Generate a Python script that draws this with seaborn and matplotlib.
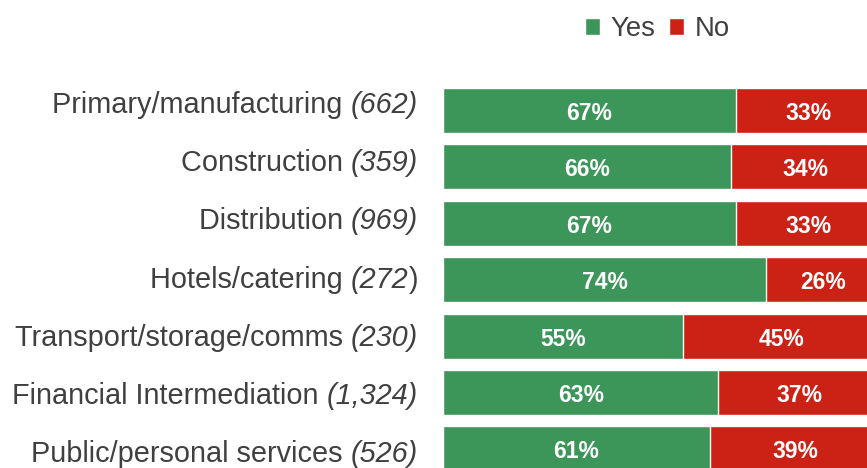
import pandas as pd
import seaborn as sns
import matplotlib.pyplot as plt
from matplotlib.patches import Patch
from matplotlib.transforms import offset_copy, blended_transform_factory

sectors = [
    "Primary/manufacturing",
    "Construction",
    "Distribution",
    "Hotels/catering",
    "Transport/storage/comms",
    "Financial Intermediation",
    "Public/personal services",
]
counts = ["662", "359", "969", "272", "230", "1,324", "526"]
yes_pct = [67, 66, 67, 74, 55, 63, 61]
no_pct = [33, 34, 33, 26, 45, 37, 39]

green = "#3C965A"
red = "#CC2216"
grey = "#404040"

sns.set_theme(style="white")
plt.rcParams["font.family"] = ["Liberation Sans", "DejaVu Sans"]

df = pd.DataFrame({
    "sector": sectors,
    "yes": yes_pct,
    "total": [y + n for y, n in zip(yes_pct, no_pct)],
})

fig = plt.figure(figsize=(8.67, 4.68), dpi=100)
ax = fig.add_axes([443 / 867, 0, 424 / 867, 1])

sns.barplot(data=df, x="total", y="sector", color=red, saturation=1,
            width=0.8, edgecolor="white", linewidth=1, ax=ax)
sns.barplot(data=df, x="yes", y="sector", color=green, saturation=1,
            width=0.8, edgecolor="white", linewidth=1, ax=ax)

for i, (y, n) in enumerate(zip(yes_pct, no_pct)):
    ax.text(y / 2, i + 0.17, f"{y}%", ha="center", va="baseline",
            color="white", fontsize=16.5, fontweight="bold")
    ax.text(y + n / 2, i + 0.17, f"{n}%", ha="center", va="baseline",
            color="white", fontsize=16.5, fontweight="bold")

ax.set_xlim(0, 97.0)
ax.set_ylim(6.339, -1.959)
ax.set_xticks([])
ax.set_yticks([])
ax.set_xlabel("")
ax.set_ylabel("")
sns.despine(ax=ax, left=True, bottom=True)

# category labels: name upright, sample size in italics
# (the labels are spaced a little wider than the bars in the original)
trans = blended_transform_factory(ax.transAxes, ax.transData)
fig.canvas.draw()
renderer = fig.canvas.get_renderer()
pad = -25
for i, (s, c) in enumerate(zip(sectors, counts)):
    yb = 0.044 + 1.0328 * i
    if s == "Hotels/catering":
        tail = ax.text(0, yb, ")", ha="right", va="baseline",
                       fontsize=20.8, color=grey,
                       transform=offset_copy(trans, fig=fig, x=pad, units="dots"))
        w_tail = tail.get_window_extent(renderer).width
        cnt = ax.text(0, yb, "(" + c, ha="right", va="baseline",
                      fontsize=20.8, color=grey, style="italic",
                      transform=offset_copy(trans, fig=fig, x=pad - w_tail, units="dots"))
        w = w_tail + cnt.get_window_extent(renderer).width
    else:
        cnt = ax.text(0, yb, "(" + c + ")", ha="right", va="baseline",
                      fontsize=20.8, color=grey, style="italic",
                      transform=offset_copy(trans, fig=fig, x=pad, units="dots"))
        w = cnt.get_window_extent(renderer).width
    ax.text(0, yb, s + " ", ha="right", va="baseline",
            fontsize=20.8, color=grey, clip_on=False,
            transform=offset_copy(trans, fig=fig, x=pad - w, units="dots"))

handles = [Patch(facecolor=green, label="Yes"), Patch(facecolor=red, label="No")]
fig.legend(handles=handles, loc="center", bbox_to_anchor=(0.758, 0.937),
           ncol=2, frameon=False, fontsize=19.8, labelcolor=grey,
           handlelength=0.55, handleheight=0.55, handletextpad=0.37,
           columnspacing=0.52)

fig.savefig("out.png", dpi=100)
